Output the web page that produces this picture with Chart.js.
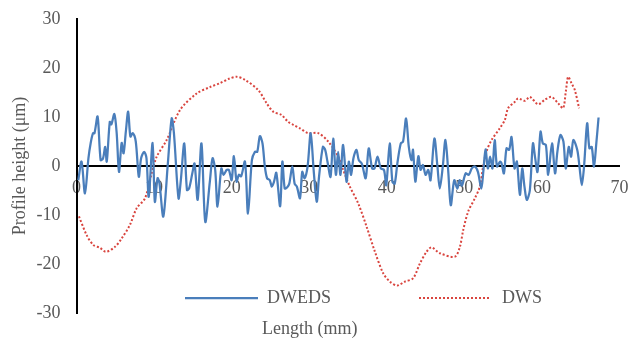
<!DOCTYPE html>
<html><head><meta charset="utf-8">
<script src="https://cdn.jsdelivr.net/npm/chart.js@4"></script>
<style>html,body{margin:0;padding:0;background:#fff;}</style>
</head><body>
<canvas id="c" width="629" height="338"></canvas>
<script>
const seriesNames = ['DWEDS', 'DWS'];
const xTitle = 'Length (mm)';
const yTitle = 'Profile height (μm)';

const dwedsX = [0.23,0.65,1.09,1.54,1.83,2.13,2.32,2.72,3.11,3.41,3.70,3.90,4.29,4.49,4.88,5.18,5.48,5.82,6.07,6.36,6.66,6.95,7.25,7.64,8.03,8.33,8.72,9.02,9.31,9.81,10.10,10.45,10.69,11.19,11.78,12.27,12.56,13.15,13.45,13.89,14.24,14.53,14.93,15.22,15.62,16.11,16.60,17.19,17.54,17.88,18.18,18.67,18.96,19.36,19.65,20.00,20.29,20.64,20.93,21.23,21.72,22.11,22.61,23.00,23.30,23.64,23.98,24.28,24.57,24.92,25.17,25.46,25.76,26.25,26.54,26.84,27.14,27.43,27.82,28.12,28.41,28.81,29.10,29.40,29.79,30.19,30.58,30.97,31.27,31.76,32.06,32.35,32.75,33.09,33.44,33.73,34.03,34.37,34.81,35.11,35.40,35.70,36.09,36.39,36.78,37.28,37.67,38.11,38.41,38.80,39.24,39.64,39.93,40.38,40.72,41.02,41.36,41.80,42.10,42.49,42.84,43.18,43.38,43.68,44.07,44.36,44.66,45.00,45.35,45.64,46.14,46.53,46.83,47.22,47.56,47.91,48.25,48.70,49.09,49.39,49.68,50.17,50.56,50.96,51.35,51.75,52.19,52.44,52.73,53.03,53.32,53.62,53.91,54.21,54.60,54.80,55.10,55.44,55.78,56.08,56.47,56.77,57.16,57.46,57.75,58.05,58.44,58.84,59.13,59.43,59.82,60.12,60.51,60.81,61.30,61.69,61.99,62.38,62.77,63.07,63.46,63.76,64.05,64.55,64.84,65.14,65.43,65.83,66.12,66.42,66.71,67.01,67.30];
const dwedsY = [-2.9,0.9,-5.6,1.6,4.7,6.7,6.7,10.1,1.2,1.5,3.9,0.9,9.0,8.5,10.6,6.7,-1.2,4.7,2.6,7.0,11.1,6.0,6.7,5.0,-2.2,1.6,2.9,1.6,-6.3,4.7,-7.3,-2.5,-3.5,-10.3,0.6,9.7,6.7,-6.6,-2.9,4.6,-4.9,-4.5,-1.5,0.5,-6.9,4.6,-11.4,-3.2,1.6,-0.8,-8.3,-0.5,-1.8,-0.8,-0.8,-2.9,2.0,-3.2,-1.8,-2.1,0.9,-9.7,1.2,2.9,2.9,6.1,4.6,-0.1,-2.5,-2.9,-4.2,-3.2,-1.4,-8.2,0.9,-4.6,-4.4,-3.6,-0.1,-3.6,-4.2,-6.6,-1.2,-2.5,-0.1,6.7,-1.0,-7.3,-2.1,3.9,3.3,0.9,-2.2,5.6,-1.8,2.9,-1.8,4.3,-3.2,0.9,-1.8,1.6,3.3,1.2,0.5,-2.5,3.6,-0.5,-0.5,1.9,-0.5,-0.8,-3.9,4.6,-3.2,-3.6,0.5,4.6,5.0,9.7,3.9,1.2,3.3,-3.2,2.0,-0.8,0.2,-1.8,-0.8,-2.9,5.6,-0.1,-4.6,-0.1,5.3,-0.8,-8.0,-2.9,-4.6,-2.9,-4.0,-1.5,-1.8,-0.5,-0.1,-1.2,-4.6,-1.2,3.4,-0.5,1.9,-0.5,5.3,-0.1,0.9,0.5,-1.5,3.6,3.3,5.9,-0.5,0.9,-5.9,-0.5,-4.2,-6.9,-5.0,4.6,1.6,-1.2,7.0,4.6,4.3,-1.8,4.6,-1.5,2.9,6.3,5.0,-0.5,3.9,1.9,5.3,3.3,-0.1,-3.9,-0.1,8.7,3.6,3.9,-0.1,4.6,9.9];

const dwsX = [0.32,1.31,2.16,3.03,3.80,4.96,5.82,6.89,7.76,8.83,9.69,10.34,11.62,13.34,15.49,17.20,18.49,19.65,20.68,21.70,23.43,24.51,25.36,26.44,27.29,27.94,28.80,29.87,31.16,32.45,33.74,34.38,35.24,36.31,37.40,38.47,39.54,40.40,41.34,42.33,43.40,44.27,45.13,45.77,46.84,48.78,49.42,49.85,50.49,51.35,52.00,52.42,52.86,53.51,54.57,55.22,55.64,56.51,56.93,57.80,58.44,59.51,60.37,61.24,62.09,62.73,63.08,63.38,63.81,64.24,64.79];
const dwsY = [-10.3,-14.1,-16.1,-16.7,-17.5,-16.5,-14.8,-12.0,-8.6,-6.6,-1.5,1.9,5.3,11.4,14.8,16.1,16.9,17.8,18.2,17.6,15.5,12.8,11.1,10.4,9.0,8.4,7.7,6.7,6.7,5.0,1.9,-0.8,-4.2,-7.6,-12.4,-17.5,-21.9,-23.6,-24.4,-23.6,-22.9,-19.9,-17.5,-16.6,-17.8,-18.5,-16.5,-13.1,-9.3,-6.6,-4.2,-0.1,3.0,5.3,7.7,9.4,11.8,13.1,13.8,13.3,14.1,12.6,13.5,14.1,12.8,11.8,15.2,18.2,16.9,15.5,11.8];

const toPoints = (xs, ys) => xs.map((x, i) => ({x: x, y: ys[i]}));
const FONT = '"Liberation Serif", "Times New Roman", serif';
const GRAY = '#595959';

const legendPlugin = {
  id: 'inlineLegend',
  afterDatasetsDraw(chart) {
    const c = chart.ctx;
    const spots = [{x0: 185, x1: 258, tx: 267}, {x0: 419, x1: 490, tx: 502}];
    const y = 298;
    chart.data.datasets.forEach((ds, i) => {
      const s = spots[i];
      c.save();
      c.strokeStyle = ds.borderColor;
      c.lineWidth = ds.borderWidth;
      c.setLineDash(ds.borderDash || []);
      c.beginPath(); c.moveTo(s.x0, y); c.lineTo(s.x1, y); c.stroke();
      c.setLineDash([]);
      c.fillStyle = GRAY;
      c.font = '18px ' + FONT;
      c.textBaseline = 'middle';
      c.textAlign = 'left';
      c.fillText(ds.label, s.tx, y);
      c.restore();
    });
  }
};

function zeroPad(scale) {
  scale.paddingTop = 0; scale.paddingBottom = 0;
  scale.paddingLeft = 0; scale.paddingRight = 0;
}

new Chart(document.getElementById('c'), {
  type: 'line',
  data: {
    datasets: [
      {label: seriesNames[0], data: toPoints(dwedsX, dwedsY), borderColor: '#4a7ebb', borderWidth: 2.25, pointRadius: 0, tension: 0.3, fill: false},
      {label: seriesNames[1], data: toPoints(dwsX, dwsY), borderColor: '#d9453f', borderWidth: 2, borderDash: [2, 2], pointRadius: 0, tension: 0.3, fill: false}
    ]
  },
  options: {
    responsive: false,
    animation: false,
    devicePixelRatio: 1,
    layout: {padding: {top: 19, right: 9.5, left: 0, bottom: 0}},
    plugins: {
      legend: {display: false},
      tooltip: {enabled: false},
      title: {display: true, position: 'bottom', text: xTitle, color: GRAY, font: {family: FONT, size: 18, weight: 'normal', lineHeight: 1}, padding: {top: 7, bottom: 0}}
    },
    scales: {
      x: {
        type: 'linear', min: 0, max: 70,
        position: {y: 0},
        ticks: {stepSize: 10, color: GRAY, font: {family: FONT, size: 18}, padding: 11, maxRotation: 0, autoSkip: false},
        grid: {display: false, drawTicks: false},
        border: {display: true, color: '#000', width: 2},
        afterFit: zeroPad
      },
      y: {
        type: 'linear', min: -30, max: 30,
        position: 'left',
        ticks: {stepSize: 10, color: GRAY, font: {family: FONT, size: 18}, padding: 16},
        grid: {display: false, drawTicks: false},
        border: {display: true, color: '#000', width: 2},
        title: {display: true, text: yTitle, color: GRAY, font: {family: FONT, size: 18}, padding: {top: 9, bottom: 0}},
        afterFit(scale) { zeroPad(scale); scale.width = 76.5; }
      }
    }
  },
  plugins: [legendPlugin]
});
</script>
</body></html>
